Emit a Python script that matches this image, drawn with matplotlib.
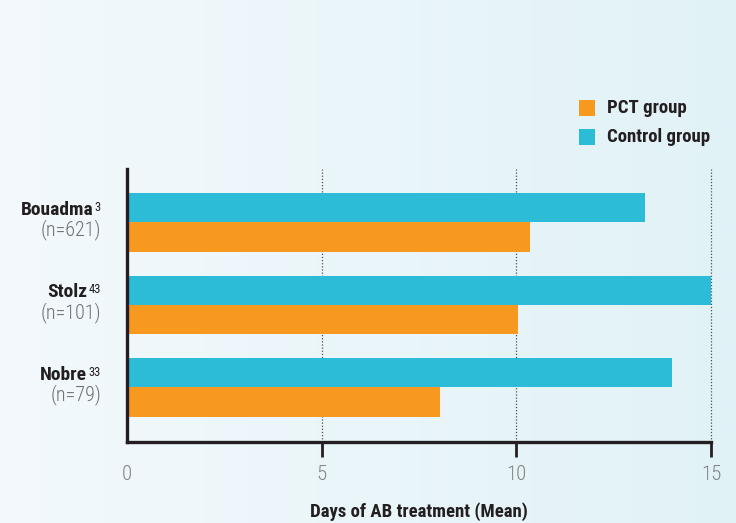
import numpy as np
import matplotlib
matplotlib.use('Agg')
import matplotlib.pyplot as plt
from matplotlib.patches import Rectangle

studies = ['Bouadma', 'Stolz', 'Nobre']
refs = ['3', '43', '33']
n_patients = ['(n=621)', '(n=101)', '(n=79)']
pct_days = [10.35, 10.05, 8.05]
control_days = [13.3, 15.0, 14.0]
xticks = [0, 5, 10, 15]

ORANGE = '#f7981f'
CYAN = '#2cbcd8'
DARK = '#231f20'
GREY = '#808285'
COND = ['Roboto Condensed', 'DejaVu Sans']

W, H = 736, 523
fig = plt.figure(figsize=(W / 100, H / 100), dpi=100)

# soft left-to-right background wash
bg = fig.add_axes([0, 0, 1, 1], zorder=-1)
left_c = np.array([243, 249, 252]) / 255
right_c = np.array([225, 242, 247]) / 255
t = np.linspace(0, 1, 256)[None, :, None]
bg.imshow(left_c + (right_c - left_c) * t, aspect='auto', extent=[0, 1, 0, 1])
bg.set_axis_off()

ax = fig.add_axes([127 / W, 1 - 441.5 / H, (711 - 127) / W, (441.5 - 169) / H])
ax.set_facecolor('none')

y = np.arange(len(studies))
h = 0.357
ax.barh(y - h / 2, control_days, height=h, color=CYAN, zorder=2)
ax.barh(y + h / 2, pct_days, height=h, color=ORANGE, zorder=2)

for xv in xticks[1:]:
    ax.axvline(xv, color='#4d4d4d', lw=0.9, ls=(0, (1, 1.5)), zorder=1, clip_on=False)

ax.set_xlim(0, 15)
ax.set_ylim(2.655, -0.648)
for s in ['top', 'right']:
    ax.spines[s].set_visible(False)
for s in ['left', 'bottom']:
    ax.spines[s].set_linewidth(2.4)
    ax.spines[s].set_color(DARK)
    ax.spines[s].set_capstyle('projecting')

ax.set_yticks([])
ax.set_xticks(xticks)
ax.set_xticklabels([str(v) for v in xticks], family=COND, fontweight='light',
                   fontsize=15, color=GREY)
ax.tick_params(axis='x', length=11, width=2, color=DARK, pad=6, direction='out')
ax.xaxis.get_major_ticks()[0].tick1line.set_visible(False)

ax.set_xlabel('Days of AB treatment (Mean)', family=COND, fontsize=13.5,
              fontweight='bold', color=DARK, labelpad=13)

# study names with reference superscripts, plus patient counts
fig.canvas.draw()
renderer = fig.canvas.get_renderer()
for i, (name, ref, n) in enumerate(zip(studies, refs, n_patients)):
    sup = ax.annotate(ref, xy=(101, i), xycoords=('figure pixels', 'data'),
                      xytext=(0, 8.5), textcoords='offset points',
                      ha='right', va='baseline', family=COND, fontsize=9, color=DARK)
    sw = sup.get_window_extent(renderer).width
    ax.annotate(name, xy=(101 - sw - 1.5, i), xycoords=('figure pixels', 'data'),
                xytext=(0, 5.4), textcoords='offset points',
                ha='right', va='baseline', family=COND, fontsize=14,
                fontweight='bold', color=DARK)
    ax.annotate(n, xy=(101, i), xycoords=('figure pixels', 'data'),
                xytext=(0, -9.5), textcoords='offset points',
                ha='right', va='baseline', family=COND, fontweight='light',
                fontsize=14.5, color='#6d6e71')

# legend
for label, col, top in [('PCT group', ORANGE, 100), ('Control group', CYAN, 129)]:
    fig.add_artist(Rectangle((579 / W, 1 - (top + 16) / H), 16 / W, 16 / H,
                             transform=fig.transFigure, color=col, lw=0))
    fig.text(607 / W, 1 - (top + 8) / H, label, ha='left', va='center',
             family=COND, fontsize=13.5, fontweight='bold', color=DARK)

fig.savefig('out.png', dpi=100)
